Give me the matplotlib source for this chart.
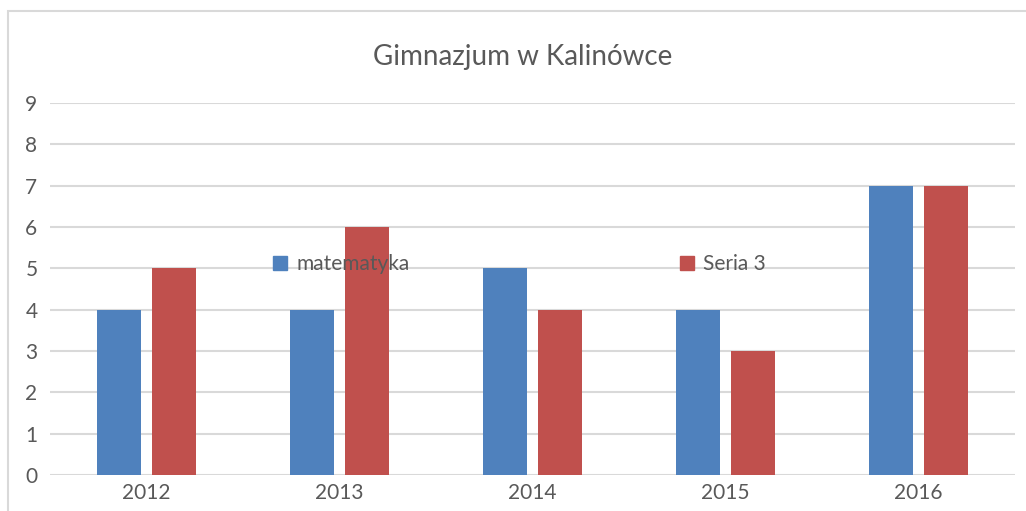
import matplotlib.pyplot as plt
from matplotlib.patches import Rectangle
import numpy as np

plt.rcParams['font.family'] = ['Lato', 'DejaVu Sans']

# data
years = ['2012', '2013', '2014', '2015', '2016']
matematyka = [4, 4, 5, 4, 7]
seria3 = [5, 6, 4, 3, 7]

blue = '#4F81BD'
red = '#C0504D'
grid = '#d9d9d9'
text_col = '#595959'

fig = plt.figure(figsize=(10.26, 5.11), dpi=100)
ax = fig.add_axes([50 / 1026, 1 - 475 / 511, 965 / 1026, 372 / 511])

x = np.arange(len(years))
w = 0.228
ax.bar(x - 0.145, matematyka, w, color=blue, zorder=3)
ax.bar(x + 0.145, seria3, w, color=red, zorder=3)

ax.set_xlim(-0.5, 4.5)
ax.set_ylim(0, 9)
ax.set_yticks(range(10))
ax.set_xticks(x)
ax.set_xticklabels(years)
ax.yaxis.grid(True, color=grid, linewidth=1.5, zorder=0)
for s in ax.spines.values():
    s.set_visible(False)
ax.tick_params(length=0, labelsize=15, labelcolor=text_col)
ax.tick_params(axis='y', pad=9)
ax.tick_params(axis='x', pad=6)

# legend sits oddly inside the plot, over the bars
handles = [Rectangle((0, 0), 1, 1, color=blue), Rectangle((0, 0), 1, 1, color=red)]
ax.legend(handles, ['matematyka', 'Seria 3'], ncol=2, frameon=False,
          loc='center left', bbox_to_anchor=(0.212, 0.567),
          fontsize=15, labelcolor=text_col, handlelength=0.65, handleheight=0.65,
          handletextpad=0.45, columnspacing=13.0)

fig.text(0.509, 0.888, 'Gimnazjum w Kalinówce', ha='center', va='center',
         fontsize=20, color=text_col)

# chart frame
fig.patches.append(Rectangle((8 / 1026, -0.1), 1.1, (500 / 511) + 0.1,
                             transform=fig.transFigure, fill=False,
                             edgecolor=grid, linewidth=1.5))

fig.savefig('out.png', dpi=100)
